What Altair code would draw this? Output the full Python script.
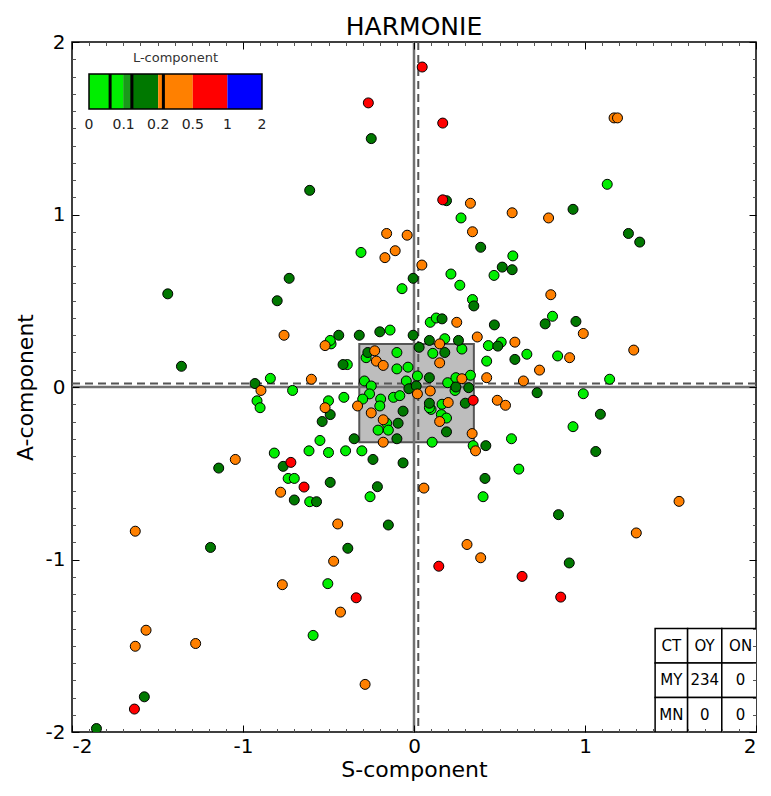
import altair as alt
import pandas as pd

FONT = "DejaVu Sans"

# ---------------- data ----------------
classes = ["0-0.1", "0.1-0.2", "0.2-0.5", "0.5-1", "1-2"]
class_colors = ["#00ee00", "#007800", "#ff8000", "#ff0000", "#0000ff"]

lime_S = [-0.31, -0.07, -0.14, -0.485, -0.39, -0.84, -0.28, -0.10, -0.10, -0.035, -0.29, -0.49,
          0.095, 0.13, 0.435, 0.51, 0.425, 0.18, 0.11, 0.28, 0.02, -0.045, 0.197, 0.245, 0.33,
          0.164, 0.10, 0.16, 0.19, 0.346, 0.57, 0.106, -0.41, -0.50, -0.40, -0.305, -0.25, -0.26,
          -0.30, -0.195, -0.20, -0.12, -0.083, -0.16, -0.21, -0.15, 1.13, 0.275, 0.578, 0.468,
          0.216, 0.268, 0.342, 0.81, 0.66, 0.84, 1.144, 0.24, 0.99, 0.93, 0.613, 0.404, -0.918,
          -0.90, -0.71, -0.55, -0.817, -0.614, -0.50, -0.736, -0.70, -0.61, -0.257, -0.504,
          -0.59, 0.09]
lime_A = [0.78, 0.57, 0.33, 0.25, 0.13, 0.05, 0.17, 0.20, 0.105, 0.115, 0.035, 0.27,
          0.375, 0.40, 0.24, 0.26, 0.15, 0.28, 0.195, 0.22, 0.064, 0.035, 0.025, 0.054, 0.068,
          -0.10, -0.13, -0.16, -0.18, -0.34, -0.30, -0.32, -0.06, -0.08, -0.37, -0.37, 0.006, -0.04,
          -0.07, -0.07, -0.11, -0.06, -0.05, -0.21, -0.25, -0.25, 1.175, 0.98, 0.76, 0.647,
          0.655, 0.59, 0.507, 0.41, 0.19, 0.18, 0.045, -0.02, -0.039, -0.23, -0.476, -0.636, -0.08,
          -0.12, -0.02, -0.31, -0.383, -0.37, -0.38, -0.53, -0.53, -0.665, -0.636, -1.14,
          -1.44, -0.12]

dkg_S = [-0.25, -0.61, -0.73, -0.005, -1.44, -0.80, -0.44, -0.32, -0.20, -0.005, -1.36, -0.415,
         -0.93, -0.27, 0.03, 0.09, 0.18, 0.26, 0.47, 0.59, 0.09, -0.03, 0.32, 0.30, 0.245, 0.09,
         0.19, 0.42, -0.49, -0.35, -0.24, -0.064, -0.064, -0.093, -0.10, 0.013, 0.19, 0.93, 0.39,
         1.254, 1.32, 0.516, 0.574, 0.35, 0.767, 0.947, 0.164, 0.49, 0.72, 1.09, 1.063, 0.415,
         0.845, 0.908, -0.537, -0.765, -0.70, -0.57, -0.49, -0.214, -1.142, -1.19, -0.15,
         -0.387, -1.577, -1.857]
dkg_A = [1.44, 1.14, 0.63, 0.63, 0.54, 0.50, 0.30, 0.30, 0.32, 0.30, 0.12, 0.13,
         0.02, 0.20, 0.23, 0.27, 0.20, 0.27, 0.36, 0.16, 0.054, -0.01, -0.004, -0.094, 0.0, -0.094,
         -0.26, -0.34, -0.16, -0.30, -0.42, -0.44, -0.14, -0.21, -0.30, 0.006, 1.08, 1.03, 0.81,
         0.89, 0.84, 0.695, 0.68, 0.47, 0.366, 0.38, 0.395, 0.237, -0.033, -0.158, -0.374, -0.53,
         -0.74, -1.02, -0.20, -0.46, -0.655, -0.665, -0.553, -0.578, -0.47, -0.93, -0.80,
         -0.935, -1.796, -1.98]

org_S = [-0.16, -0.04, -0.11, -0.17, -0.76, -0.52, -0.60, -0.23, -0.22, -0.18, 0.25, 0.37,
         0.59, 0.15, 0.15, 0.095, 0.02, 0.28, 0.425, 0.487, 0.535, 0.20, 0.15, 0.34, 0.36, -0.52,
         -0.33, -0.25, -0.18, -0.18, 1.17, 1.19, 0.33, 0.574, 0.787, 0.342, 0.046, 0.80, 0.99,
         1.285, 0.91, 0.734, 0.64, 0.058, 1.55, 1.30, 0.31, 0.39, -0.895, -1.045, -1.63, -0.446,
         -0.47, -0.77, -0.43, -1.567, -1.63, -1.277, -0.286, -0.78]
org_A = [0.89, 0.88, 0.79, 0.75, 0.30, 0.24, 0.045, 0.21, 0.15, 0.125, 0.375, 0.29,
         0.26, 0.25, 0.14, -0.023, -0.04, 0.048, 0.054, -0.077, -0.106, -0.09, -0.20, -0.27, -0.37,
         -0.12, -0.11, -0.15, -0.19, -0.32, 1.56, 1.56, 1.065, 1.01, 0.98, 0.90, 0.707, 0.535, 0.31,
         0.214, 0.17, 0.098, 0.035, -0.586, -0.663, -0.846, -0.913, -0.99, -0.02, -0.42, -0.836,
         -0.794, -1.01, -1.146, -1.305, -1.41, -1.503, -1.487, -1.724, -0.61]

red_S = [-0.267, 0.048, 0.168, 0.168, 0.346, 0.145, 0.632, 0.858, -0.72, -0.643, -0.338, -1.635]
red_A = [1.647, 1.855, 1.53, 1.085, -0.077, -1.039, -1.098, -1.218, -0.437, -0.58, -1.222, -1.867]

mean_S = [0.025]
mean_A = [0.02]
box_S = [-0.32, 0.35]
box_A = [-0.32, 0.25]

cb_labels = ["0", "0.1", "0.2", "0.5", "1", "2"]
cb_marks = [0.61, 1.24, 2.15]

tab_S = [1.41, 1.60, 1.80, 2.02]
tab_A = [-1.40, -1.60, -1.80, -2.0]
tab_text = [["CT", "OY", "ON"], ["MY", "234", "0"], ["MN", "0", "0"]]

# ---------------- tables ----------------
pts = pd.concat([
    pd.DataFrame({"S": lime_S, "A": lime_A, "L": classes[0]}),
    pd.DataFrame({"S": dkg_S, "A": dkg_A, "L": classes[1]}),
    pd.DataFrame({"S": org_S, "A": org_A, "L": classes[2]}),
    pd.DataFrame({"S": red_S, "A": red_A, "L": classes[3]}),
], ignore_index=True)

cells = []
for r in range(3):
    for c in range(3):
        cells.append({"x1": tab_S[c], "x2": tab_S[c + 1], "y1": tab_A[r], "y2": tab_A[r + 1],
                      "xc": (tab_S[c] + tab_S[c + 1]) / 2, "yc": (tab_A[r] + tab_A[r + 1]) / 2,
                      "t": tab_text[r][c]})
cells = pd.DataFrame(cells)

cb_segs = pd.DataFrame({"a": [0, 1, 1.0, 2, 3, 4], "b": [1, 2, 1.2, 3, 4, 5],
                        "c": ["#00ee00", "#007800", "#1a9a1a", "#ff8000", "#ff0000", "#0000ff"]})
cb_lab = pd.DataFrame({"p": list(range(len(cb_labels))), "t": cb_labels})

# ---------------- scales / axes ----------------
xs = alt.Scale(domain=[-2, 2], nice=False, zero=False)
ys = alt.Scale(domain=[-2, 2], nice=False, zero=False)
cbs = alt.Scale(domain=[0, 5], range=[17, 190], nice=False, zero=False)

major = [-2, -1, 0, 1, 2]
minor = [round(-2 + 0.1 * i, 1) for i in range(41) if i % 10]


def tick_axis(orient, values, size, color="black"):
    return alt.Axis(orient=orient, values=values, tickSize=size, offset=-size, domain=False,
                    grid=False, labels=False, title=None, tickColor=color, tickWidth=1, zindex=2)


x_main = alt.Axis(orient="bottom", values=major, tickSize=7, offset=-7, domain=False, grid=False,
                  labelFont=FONT, labelFontSize=20, labelPadding=4, labelColor="black",
                  labelExpr="'' + datum.value", tickColor="black", title="S-component",
                  titleFont=FONT, titleFontSize=22, titleFontWeight="normal", titleColor="black",
                  titlePadding=3, zindex=2)
y_main = alt.Axis(orient="left", values=major, tickSize=7, offset=-7, domain=False, grid=False,
                  labelFont=FONT, labelFontSize=20, labelPadding=7, labelColor="black",
                  labelExpr="'' + datum.value", tickColor="black", title="A-component",
                  titleFont=FONT, titleFontSize=22, titleFontWeight="normal", titleColor="black",
                  titlePadding=8, zindex=2)

# ---------------- layers ----------------
box = alt.Chart(pd.DataFrame({"x1": [box_S[0]], "x2": [box_S[1]], "y1": [box_A[0]], "y2": [box_A[1]]})).mark_rect(
    fill="#bdbdbd", stroke="#555555", strokeWidth=2
).encode(
    x=alt.X("x1:Q", scale=xs, axis=tick_axis("bottom", minor, 3.5, "#555555")),
    x2="x2:Q",
    y=alt.Y("y1:Q", scale=ys, axis=tick_axis("left", minor, 3.5, "#555555")),
    y2="y2:Q",
)

h0 = alt.Chart(pd.DataFrame({"A": [0]})).mark_rule(color="#707070", strokeWidth=2.5).encode(
    y=alt.Y("A:Q", scale=ys, axis=None))
v0 = alt.Chart(pd.DataFrame({"S": [0]})).mark_rule(color="#707070", strokeWidth=2.5).encode(
    x=alt.X("S:Q", scale=xs, axis=None))
hm = alt.Chart(pd.DataFrame({"A": mean_A})).mark_rule(color="#555555", strokeWidth=2, strokeDash=[8, 5]).encode(
    y=alt.Y("A:Q", scale=ys, axis=None))
vm = alt.Chart(pd.DataFrame({"S": mean_S})).mark_rule(color="#555555", strokeWidth=2, strokeDash=[8, 5]).encode(
    x=alt.X("S:Q", scale=xs, axis=None))

points = alt.Chart(pts).mark_circle(size=100, stroke="black", strokeWidth=1, opacity=1, clip=True).encode(
    x=alt.X("S:Q", scale=xs, axis=x_main),
    y=alt.Y("A:Q", scale=ys, axis=y_main),
    color=alt.Color("L:N", scale=alt.Scale(domain=classes, range=class_colors), legend=None),
)

tab_rect = alt.Chart(cells).mark_rect(fill="white", stroke="black", strokeWidth=1.5, clip=True).encode(
    x=alt.X("x1:Q", scale=xs, axis=tick_axis("top", major, 7)),
    x2="x2:Q",
    y=alt.Y("y1:Q", scale=ys, axis=tick_axis("right", major, 7)),
    y2="y2:Q",
)
tab_txt = alt.Chart(cells).mark_text(font=FONT, fontSize=15, color="black", clip=True).encode(
    x=alt.X("xc:Q", scale=xs, axis=tick_axis("top", minor, 3.5, "#555555")),
    y=alt.Y("yc:Q", scale=ys, axis=tick_axis("right", minor, 3.5, "#555555")),
    text="t:N",
)

cb_rect = alt.Chart(cb_segs).mark_rect().encode(
    x=alt.X("a:Q", scale=cbs, axis=None), x2="b:Q",
    y=alt.value(32), y2=alt.value(67),
    color=alt.Color("c:N", scale=None),
)
cb_lines = alt.Chart(pd.DataFrame({"m": cb_marks})).mark_rule(color="black", strokeWidth=3).encode(
    x=alt.X("m:Q", scale=cbs, axis=None), y=alt.value(32), y2=alt.value(67))
cb_frame = alt.Chart(pd.DataFrame({"a": [0], "b": [5]})).mark_rect(fill=None, stroke="black", strokeWidth=1.5).encode(
    x=alt.X("a:Q", scale=cbs, axis=None), x2="b:Q", y=alt.value(32), y2=alt.value(67))
cb_text = alt.Chart(cb_lab).mark_text(font=FONT, fontSize=14, color="#222222", baseline="middle").encode(
    x=alt.X("p:Q", scale=cbs, axis=None), y=alt.value(83), text="t:N")
cb_title = alt.Chart(pd.DataFrame({"p": [2.5], "t": ["L-component"]})).mark_text(
    font=FONT, fontSize=13, color="#333333", baseline="middle").encode(
    x=alt.X("p:Q", scale=cbs, axis=None), y=alt.value(16), text="t:N")

chart = alt.layer(
    box, h0, v0, hm, vm, points, tab_rect, tab_txt, cb_rect, cb_lines, cb_frame, cb_text, cb_title
).resolve_scale(
    x="independent", y="independent"
).resolve_axis(
    x="independent", y="independent"
).properties(
    width=684, height=690,
    title=alt.TitleParams("HARMONIE", font=FONT, fontSize=25, fontWeight="normal", color="black",
                          offset=-8, anchor="middle", frame="group"),
    autosize=alt.AutoSizeParams(type="none"),
    padding={"left": 64, "top": 34, "right": 7, "bottom": 56},
).configure_view(
    stroke="black", strokeWidth=1.5
)

chart.save("out.html", embed_options={"renderer": "svg", "actions": False})
